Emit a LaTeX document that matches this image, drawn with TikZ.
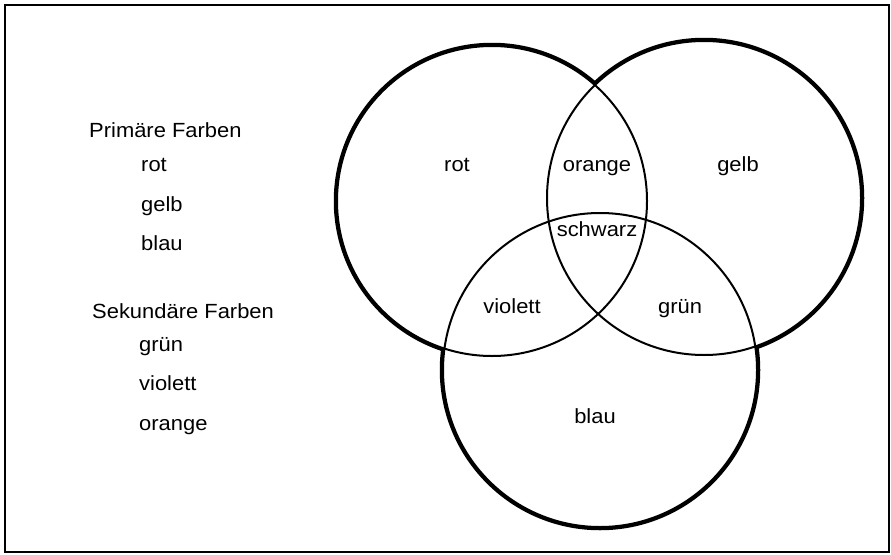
\documentclass[tikz,border=0pt]{standalone}
\usepackage{fontspec}
\setmainfont{Liberation Sans}[FakeStretch=1.07]
\begin{document}
\begin{tikzpicture}[x=1pt,y=-1pt,
  lbl/.style={font=\fontsize{20.5}{24}\selectfont, inner sep=0pt, anchor=mid},
  lft/.style={lbl, anchor=mid west},
  outer/.style={line width=6.5pt},
  inner/.style={line width=2pt}]
\useasboundingbox (0,0) rectangle (891,554);
\draw[line width=2pt] (5,5) rectangle (889,552);
\coordinate (R) at (492,201);
\coordinate (G) at (704,198);
\coordinate (B) at (600,370);
% thick outer outline
\draw[outer] (R) circle[radius=155];
\draw[outer] (G) circle[radius=157];
\draw[outer] (B) circle[radius=157];
\fill[white] (R) circle[radius=155];
\fill[white] (G) circle[radius=157];
\fill[white] (B) circle[radius=157];
\draw[inner] (R) circle[radius=155];
\draw[inner] (G) circle[radius=157];
\draw[inner] (B) circle[radius=157];
% region labels
\node[lbl] (lrot) at (457,169) {rot};
\node[lbl] (lorange) at (597,169) {orange};
\node[lbl] (lgelb) at (738,169) {gelb};
\node[lbl] (lschwarz) at (597,234) {schwarz};
\node[lbl] (lviolett) at (512,311) {violett};
\node[lbl] (lgruen) at (680,311) {grün};
\node[lbl] (lblau) at (595,421) {blau};
% legend
\node[lft] (hp) at (89,135) {Primäre Farben};
\node[lft] (p1) at (141,169) {rot};
\node[lft] (p2) at (141,209) {gelb};
\node[lft] (p3) at (141,248) {blau};
\node[lft] (hs) at (92,316) {Sekundäre Farben};
\node[lft] (s1) at (139,349) {grün};
\node[lft] (s2) at (139,388) {violett};
\node[lft] (s3) at (139,428) {orange};
\end{tikzpicture}
\end{document}
